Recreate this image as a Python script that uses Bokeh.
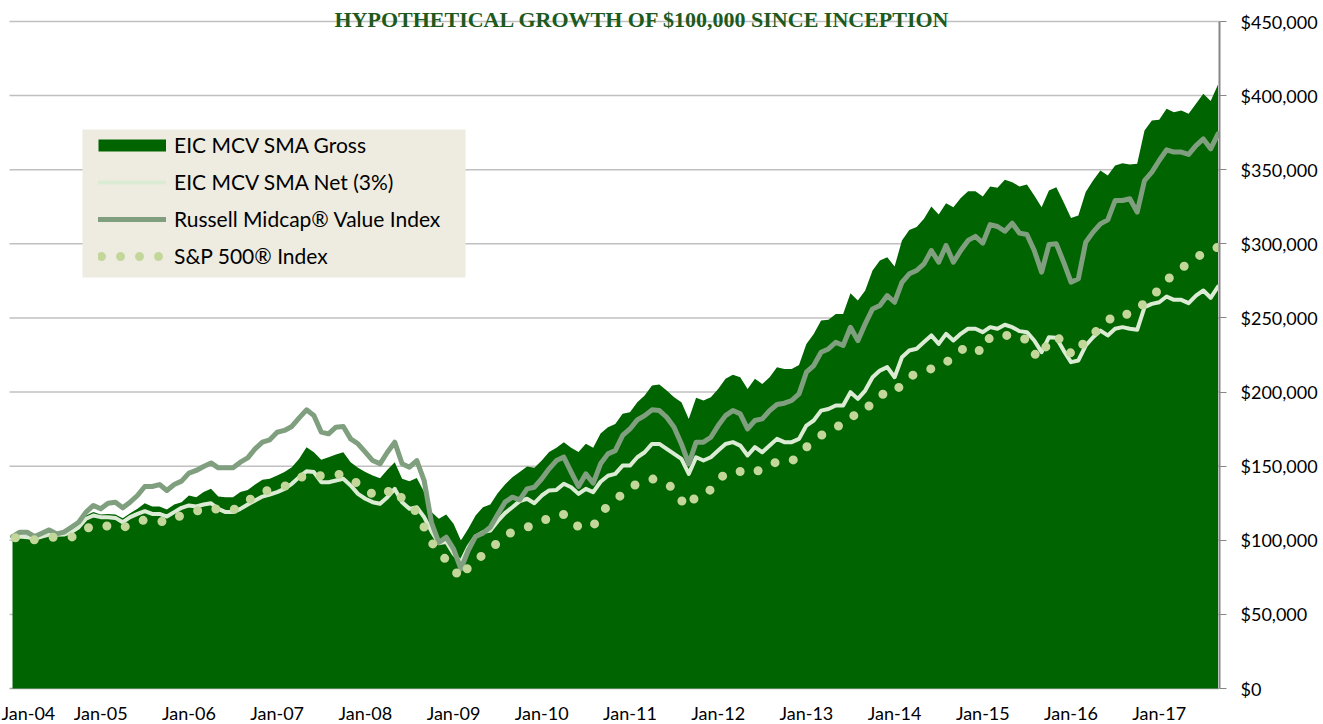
from bokeh.plotting import figure
from bokeh.models import (Range1d, FixedTicker, NumeralTickFormatter, Legend,
                          LegendItem, BoxAnnotation, Label, Span, ColumnDataSource)
from bokeh.embed import file_html
from bokeh.resources import INLINE

# ---------------- data (values in $ thousands, monthly from Jan-04) ----------------
gross_k = [
    102.0, 103.9, 103.2, 101.6, 103.9, 106.1, 104.8, 105.5, 107.7, 110.6,
    116.7, 119.0, 117.4, 117.8, 117.4, 114.9, 118.3, 121.2, 125.0, 122.8,
    122.8, 120.8, 124.1, 125.7, 130.2, 129.1, 132.5, 134.7, 129.5, 129.1,
    129.1, 132.5, 134.0, 137.6, 140.8, 141.5, 143.7, 146.0, 149.3, 155.0,
    162.8, 159.4, 154.3, 156.1, 157.9, 159.4, 152.7, 148.9, 146.0, 143.7,
    141.9, 147.5, 152.7, 141.5, 139.9, 142.1, 132.5, 119.0, 114.5, 117.4,
    111.1, 99.9, 107.7, 116.7, 122.3, 124.1, 131.8, 137.6, 142.6, 146.0,
    149.8, 148.9, 153.8, 159.5, 162.4, 166.2, 162.4, 159.5, 165.1, 162.4,
    172.0, 176.3, 178.5, 185.3, 186.4, 193.1, 197.6, 204.4, 205.1, 201.0,
    196.5, 193.1, 181.9, 196.1, 194.3, 196.5, 202.1, 208.9, 211.6, 210.0,
    202.1, 208.9, 205.5, 210.0, 216.8, 215.6, 215.6, 218.3, 232.5, 239.2,
    248.2, 248.7, 252.7, 252.7, 266.7, 261.7, 268.5, 282.0, 288.7, 291.0,
    284.7, 302.3, 309.4, 311.3, 316.9, 325.2, 319.8, 327.4, 324.7, 331.0,
    335.5, 335.5, 331.9, 338.7, 337.8, 343.2, 341.6, 338.7, 340.0, 332.6,
    324.7, 336.0, 338.2, 328.1, 317.5, 319.1, 334.9, 342.7, 349.5, 346.1,
    352.9, 354.4, 353.5, 354.0, 376.5, 383.2, 383.7, 391.1, 388.8, 390.0,
    387.7, 394.5, 401.2, 396.3, 407.5,
]
net_k = [
    102.0, 102.5, 102.1, 101.0, 102.5, 103.9, 103.7, 103.9, 105.5, 108.8,
    114.5, 116.7, 115.6, 115.6, 115.1, 112.2, 115.6, 117.8, 119.6, 117.8,
    117.8, 116.0, 119.0, 121.9, 123.5, 122.8, 124.1, 125.0, 121.2, 119.0,
    119.0, 121.2, 124.1, 126.8, 129.5, 130.9, 132.5, 134.7, 138.1, 142.6,
    146.6, 146.0, 139.2, 139.2, 140.3, 141.5, 137.0, 131.3, 128.0, 125.7,
    124.6, 129.1, 134.7, 125.7, 121.2, 122.3, 115.6, 106.0, 98.0, 99.0,
    90.9, 85.2, 95.4, 102.6, 105.5, 106.6, 112.9, 118.3, 122.3, 126.4,
    128.0, 125.0, 130.2, 133.6, 134.0, 138.1, 135.8, 131.3, 134.7, 132.5,
    139.5, 143.5, 144.8, 150.4, 150.4, 156.0, 159.4, 165.0, 165.0, 161.7,
    158.3, 154.9, 144.8, 156.0, 153.8, 156.0, 160.5, 165.0, 166.2, 163.9,
    157.2, 162.8, 159.4, 163.9, 168.4, 166.2, 166.2, 168.4, 177.4, 180.8,
    187.5, 188.6, 190.9, 190.9, 199.9, 195.4, 201.0, 210.0, 214.5, 216.8,
    210.0, 223.5, 228.0, 229.2, 233.7, 238.2, 232.5, 239.3, 234.8, 239.3,
    242.7, 242.7, 240.4, 243.8, 242.7, 245.4, 243.8, 241.1, 240.4, 234.8,
    226.9, 237.0, 236.6, 228.0, 220.2, 221.3, 231.4, 237.0, 241.5, 238.2,
    242.7, 243.8, 242.7, 242.0, 257.3, 259.5, 260.6, 264.5, 262.2, 262.2,
    260.0, 265.1, 268.5, 263.6, 271.2,
]
russell_k = [
    102.5, 105.5, 105.5, 102.5, 104.8, 107.0, 104.3, 105.5, 108.8, 112.2,
    119.0, 123.5, 121.2, 125.0, 125.7, 121.9, 125.7, 130.2, 136.3, 136.3,
    137.6, 133.6, 137.6, 139.9, 145.3, 147.1, 149.8, 152.2, 148.9, 148.9,
    148.9, 152.7, 155.6, 161.7, 166.2, 167.8, 172.9, 174.1, 176.8, 182.6,
    188.0, 184.2, 173.0, 171.8, 176.3, 176.8, 168.4, 165.1, 159.4, 153.8,
    151.6, 159.4, 166.2, 151.6, 149.3, 153.8, 140.3, 112.0, 98.5, 102.1,
    94.2, 80.7, 93.1, 102.6, 104.8, 108.8, 117.4, 125.7, 129.1, 127.3,
    134.7, 135.8, 141.5, 148.2, 153.8, 156.1, 146.0, 136.3, 144.8, 138.5,
    151.6, 158.3, 160.5, 170.7, 175.1, 181.2, 184.1, 188.0, 187.5, 183.0,
    176.3, 165.0, 151.5, 166.2, 166.2, 169.5, 177.4, 184.1, 187.5, 185.3,
    175.1, 180.8, 181.9, 187.5, 191.6, 192.5, 194.3, 198.8, 213.4, 217.9,
    226.9, 229.1, 233.6, 231.4, 243.7, 234.7, 246.0, 256.1, 258.4, 265.1,
    260.6, 274.0, 279.8, 282.0, 286.5, 295.5, 287.6, 298.9, 287.6, 295.5,
    302.3, 305.0, 300.5, 313.0, 311.7, 308.5, 313.9, 307.2, 306.3, 295.5,
    280.9, 299.5, 300.0, 287.6, 274.1, 276.4, 301.1, 307.9, 313.5, 316.2,
    329.2, 329.2, 330.4, 321.4, 342.7, 348.4, 356.2, 363.4, 361.9, 361.9,
    360.3, 366.3, 370.8, 364.1, 374.2,
]
sp500_k = [
    102.1, 101.2, 100.7, 100.3, 101.2, 101.9, 102.1, 102.1, 102.1, 103.9,
    107.7, 110.0, 109.3, 109.7, 110.6, 108.8, 110.0, 112.2, 113.8, 113.3,
    112.9, 112.2, 115.1, 116.7, 118.3, 119.6, 121.2, 122.3, 120.5, 119.6,
    120.5, 122.8, 126.4, 130.2, 133.1, 133.6, 134.7, 136.3, 139.2, 142.1,
    143.7, 142.6, 143.7, 144.8, 144.8, 143.9, 141.5, 138.1, 133.6, 131.3,
    129.5, 132.5, 135.4, 128.0, 123.5, 119.0, 108.8, 99.0, 90.9, 87.0,
    80.7, 74.0, 81.9, 87.5, 89.7, 93.1, 98.7, 103.2, 105.5, 107.1,
    108.8, 110.6, 112.2, 115.6, 117.4, 117.4, 115.6, 108.8, 108.8, 109.5,
    117.8, 123.4, 127.2, 131.3, 135.8, 138.0, 139.8, 141.4, 140.3, 138.0,
    134.7, 126.8, 122.3, 130.2, 132.4, 134.0, 140.3, 145.2, 146.6, 146.4,
    144.8, 145.5, 148.8, 151.5, 152.7, 153.1, 153.1, 158.3, 162.8, 167.3,
    170.7, 174.0, 176.3, 178.5, 183.5, 184.8, 186.6, 194.3, 198.3, 198.8,
    199.2, 206.0, 210.5, 212.3, 214.5, 215.7, 216.8, 220.2, 222.9, 228.0,
    231.4, 229.2, 226.9, 237.5, 237.9, 238.2, 238.2, 238.2, 234.8, 225.8,
    223.1, 235.9, 236.6, 234.8, 225.8, 225.8, 236.6, 239.3, 243.3, 247.8,
    252.8, 252.8, 252.3, 256.2, 260.0, 264.0, 269.6, 275.3, 279.8, 283.1,
    287.6, 290.6, 293.7, 295.5, 297.8,
]
tick_labels = ["Jan-04", "Jan-05", "Jan-06", "Jan-07", "Jan-08", "Jan-09", "Jan-10",
               "Jan-11", "Jan-12", "Jan-13", "Jan-14", "Jan-15", "Jan-16", "Jan-17"]
tick_months = [12 * k for k in range(len(tick_labels))]
series_names = ["EIC MCV SMA Gross", "EIC MCV SMA Net (3%)",
                "Russell Midcap\u00ae Value Index", "S&P 500\u00ae Index"]
title_text = "HYPOTHETICAL GROWTH OF $100,000 SINCE INCEPTION"

# ---------------- styling / layout ----------------
GREEN = "#006400"
NET_C = "#DCEBD4"
RUS_C = "#7F9F7F"
SP_C = "#C4D79B"
LEG_BG = "#EEECE1"
GRID_C = "#C0C0C0"
FONT = "Lato"

W, H = 1323, 724
Y_MAX = 450000
PLOT_TOP_PX, PLOT_BOTTOM_PX = 21, 688      # canvas rows of $450k and $0
FIRST_X_PX, FRAME_RIGHT_PX = 12, 1219      # canvas column of first month / frame right
X_END = 164.2
GRID_LEFT_PX = 9                           # gridlines start here in the original

px_per_dollar = (PLOT_BOTTOM_PX - PLOT_TOP_PX) / Y_MAX
px_per_month = (FRAME_RIGHT_PX - FIRST_X_PX) / X_END
# the frame fills the full canvas so that texts around the plot stay unclipped
y_lo = -(H - PLOT_BOTTOM_PX) / px_per_dollar
y_hi = Y_MAX + PLOT_TOP_PX / px_per_dollar
x_lo = -FIRST_X_PX / px_per_month
grid_x0 = (GRID_LEFT_PX - FIRST_X_PX) / px_per_month

n = len(gross_k)
month = list(range(n))
src = ColumnDataSource(dict(
    m=month,
    gross=[v * 1000 for v in gross_k],
    net=[v * 1000 for v in net_k],
    rus=[v * 1000 for v in russell_k],
    sp=[v * 1000 for v in sp500_k],
))

p = figure(width=W, height=H, output_backend="svg", toolbar_location=None,
           x_range=Range1d(x_lo, X_END), y_range=Range1d(y_lo, y_hi),
           y_axis_location="right", x_axis_location=None,
           min_border_left=0, min_border_right=W - FRAME_RIGHT_PX, min_border_top=0,
           min_border_bottom=0)
p.outline_line_color = None
p.background_fill_color = "white"
p.border_fill_color = "white"
p.xgrid.grid_line_color = None
p.ygrid.grid_line_color = None

# horizontal gridlines (start a little left of the first month, as in the original)
grid_levels = list(range(50000, Y_MAX + 1, 50000))
p.segment(x0=[grid_x0] * len(grid_levels), x1=[X_END] * len(grid_levels),
          y0=grid_levels, y1=grid_levels, line_color=GRID_C, line_width=1.5)
# bottom (category) axis line
p.segment(x0=[grid_x0], x1=[X_END], y0=[0], y1=[0], line_color="#A6A6A6", line_width=1.5)

area = p.varea(x="m", y1=0, y2="gross", source=src, fill_color=GREEN)
# legend swatch for the gross area (drawn outside the visible x-range)
gross_leg = p.line(x=[-20, -19], y=[0, 0], line_color=GREEN, line_width=12,
                   line_cap="butt")
net_r = p.line(x="m", y="net", source=src, line_color=NET_C, line_width=4,
               line_join="round", line_cap="round")
rus_r = p.line(x="m", y="rus", source=src, line_color=RUS_C, line_width=5,
               line_join="round", line_cap="round")
sp_r = p.line(x="m", y="sp", source=src, line_color=SP_C, line_width=9,
              line_dash="0 19", line_dash_offset=16,
              line_cap="round", line_join="round")

# category labels
for k, (m, lab) in enumerate(zip(tick_months, tick_labels)):
    if k == 0:   # first label kept fully on the canvas
        p.add_layout(Label(x=x_lo, y=H - 712, x_units="data", y_units="screen", text=lab,
                           x_offset=1, text_align="left", text_baseline="middle",
                           text_font=FONT, text_font_size="18px", text_color="#000000"))
    else:
        p.add_layout(Label(x=m, y=H - 712, x_units="data", y_units="screen", text=lab,
                           text_align="center", text_baseline="middle",
                           text_font=FONT, text_font_size="18px", text_color="#000000"))

ya = p.yaxis[0]
ya.bounds = (0, Y_MAX)
ya.ticker = FixedTicker(ticks=list(range(0, Y_MAX + 1, 50000)))
ya.formatter = NumeralTickFormatter(format="$0,0")
ya.axis_line_color = "#868686"
ya.axis_line_width = 2
ya.major_tick_line_color = "#868686"
ya.major_tick_in = 0
ya.major_tick_out = 7
ya.minor_tick_line_color = None
ya.major_label_text_font = FONT
ya.major_label_text_font_size = "18px"
ya.major_label_text_color = "#000000"
ya.major_label_standoff = 14

# legend background box (screen units relative to the frame's bottom-left)
p.add_layout(BoxAnnotation(left=82, right=465, top=H - 129, bottom=H - 277,
                           left_units="screen", right_units="screen",
                           top_units="screen", bottom_units="screen",
                           fill_color=LEG_BG, fill_alpha=1.0, line_color=None))

legend = Legend(items=[
    LegendItem(label=series_names[0], renderers=[gross_leg]),
    LegendItem(label=series_names[1], renderers=[net_r]),
    LegendItem(label=series_names[2], renderers=[rus_r]),
    LegendItem(label=series_names[3], renderers=[sp_r]),
], location=(98, H - 268), orientation="vertical",
    background_fill_alpha=0, border_line_color=None,
    padding=7, margin=0, spacing=12,
    glyph_width=68, glyph_height=24, label_height=24, label_standoff=8,
    label_text_font=FONT, label_text_font_size="21px", label_text_color="#000000")
p.add_layout(legend)

p.add_layout(Label(x=642, y=H - 19, x_units="screen", y_units="screen",
                   text=title_text, text_align="center", text_baseline="alphabetic",
                   text_font="Liberation Serif", text_font_style="bold",
                   text_font_size="22px", text_color="#1D5A1D"))

open("out.html", "w").write(file_html(p, INLINE))
